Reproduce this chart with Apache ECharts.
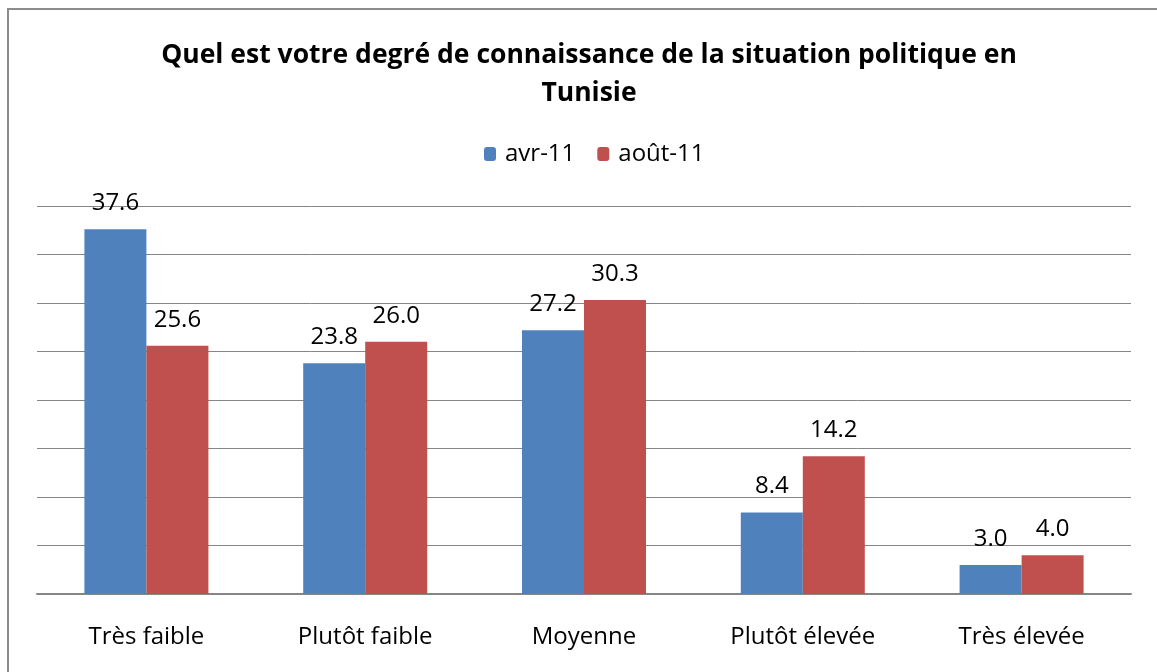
<!DOCTYPE html>
<html>
<head>
<meta charset="utf-8">
<script src="https://cdn.jsdelivr.net/npm/echarts@6/dist/echarts.min.js"></script>
<style>
  html, body { margin: 0; padding: 0; background: #fff; }
  #chart { width: 1157px; height: 672px; }
</style>
</head>
<body>
<div id="chart"></div>
<script>
const categories = ['Très faible', 'Plutôt faible', 'Moyenne', 'Plutôt élevée', 'Très élevée']
const avr11 = [37.6, 23.8, 27.2, 8.4, 3.0]
const aout11 = [25.6, 26.0, 30.3, 14.2, 4.0]

const font = '"Open Sans", "Noto Sans", sans-serif'
const chart = echarts.init(document.getElementById('chart'))

const barLabel = {
  show: true,
  position: 'top',
  distance: 14,
  fontSize: 24,
  color: '#000',
  fontFamily: font,
  formatter: p => p.value.toFixed(1)
}

chart.setOption({
  textStyle: { fontFamily: font },
  title: {
    text: 'Quel est votre degré de connaissance de la situation politique en\nTunisie',
    left: 584,
    textAlign: 'center',
    top: 31,
    textStyle: {
      fontFamily: font,
      fontSize: 26.5,
      fontWeight: 'bold',
      color: '#000',
      lineHeight: 38
    }
  },
  legend: {
    top: 137,
    left: 479,
    itemWidth: 12,
    itemHeight: 14,
    itemGap: 22,
    textStyle: { fontSize: 24, color: '#000', fontFamily: font, padding: [0, 0, 0, 4] },
    data: ['avr-11', 'août-11']
  },
  graphic: [
    {
      type: 'rect',
      shape: { x: 8, y: 9, width: 1160, height: 680 },
      style: { fill: 'none', stroke: '#8c8c8c', lineWidth: 2 },
      silent: true
    }
  ],
  grid: {
    left: 37,
    right: 26,
    top: 206,
    bottom: 78
  },
  xAxis: {
    type: 'category',
    data: categories,
    axisLine: { show: true, lineStyle: { color: '#868686', width: 2 } },
    axisTick: { show: false },
    axisLabel: { fontSize: 24, color: '#000', margin: 31, fontFamily: font }
  },
  yAxis: {
    type: 'value',
    min: 0,
    max: 40,
    interval: 5,
    axisLine: { show: false },
    axisTick: { show: false },
    axisLabel: { show: false },
    splitLine: { lineStyle: { color: '#868686', width: 1 } }
  },
  series: [
    {
      name: 'avr-11',
      type: 'bar',
      data: avr11,
      barWidth: 62,
      barGap: '0%',
      itemStyle: { color: '#4F81BD' },
      label: barLabel
    },
    {
      name: 'août-11',
      type: 'bar',
      data: aout11,
      barWidth: 62,
      barGap: '0%',
      itemStyle: { color: '#C0504D' },
      label: barLabel
    }
  ]
})
</script>
</body>
</html>
